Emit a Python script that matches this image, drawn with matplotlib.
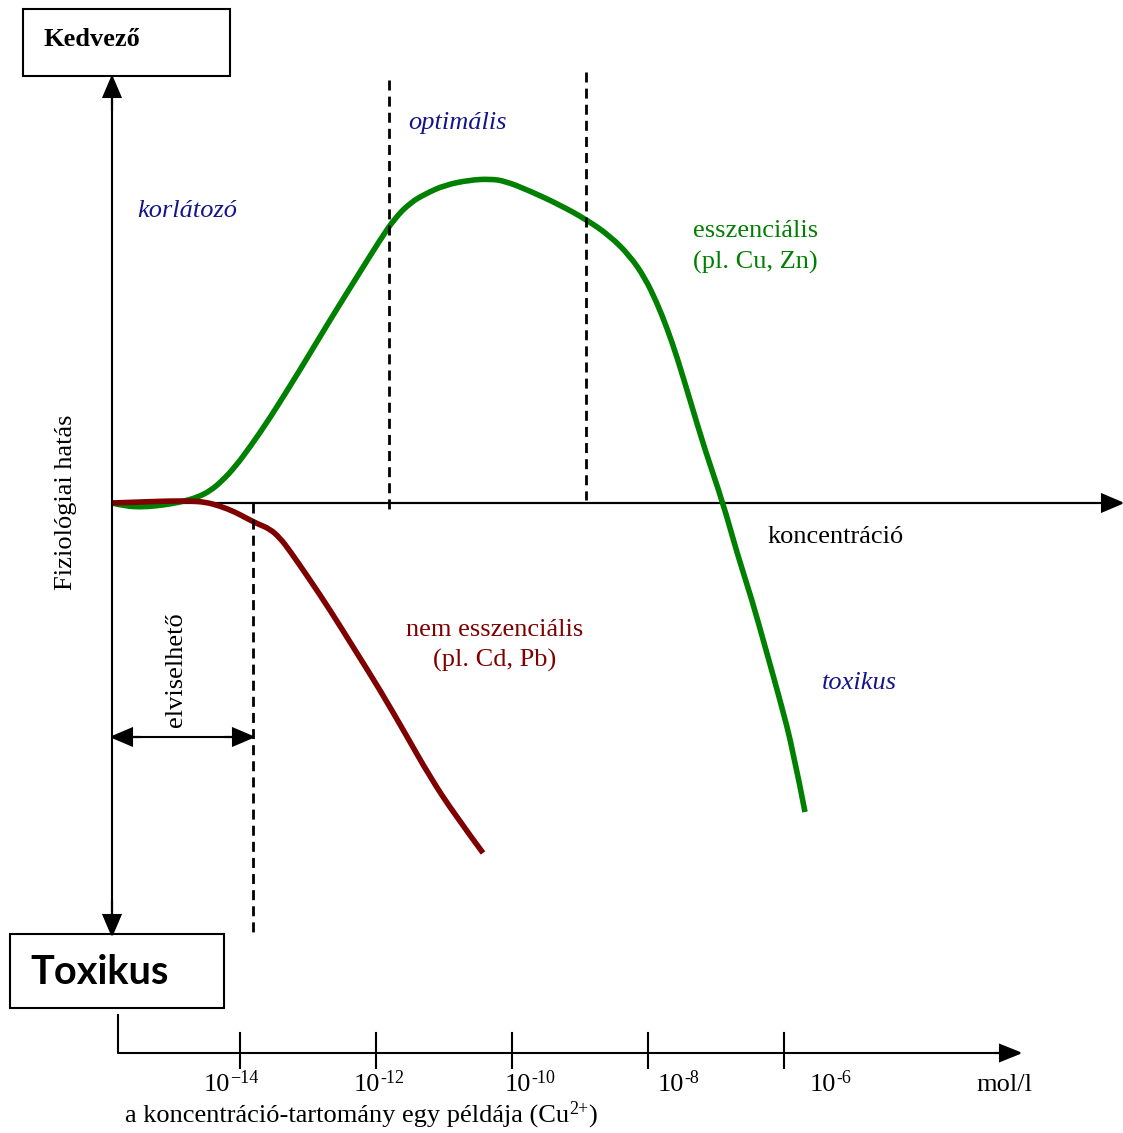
#
# plot.py
#   - Dose-response sketch: essential vs non-essential trace elements.
#

import matplotlib
matplotlib.use("Agg")
import matplotlib.pyplot as plt
from matplotlib.patches import Rectangle, PathPatch
from matplotlib.path import Path

# curve shapes (pixel space, y grows downward)
green_x = [112, 125, 140, 155, 170, 185, 198, 210, 222, 235, 250, 270, 300, 330, 360,
           380, 395, 410, 425, 445, 470, 490, 505, 530, 560, 587, 610, 630, 645, 657,
           667, 677, 690, 705, 723, 737, 752, 766, 780, 793, 805]
green_y = [503, 506, 507, 506, 504, 501, 497, 491, 481, 467, 447, 418, 370, 320, 272,
           240, 218, 203, 194, 185, 180, 179, 181, 191, 205, 220, 236, 256, 278, 303,
           328, 357, 400, 450, 503, 553, 600, 650, 700, 750, 812]

red_x = [112, 140, 170, 190, 205, 220, 235, 248, 258, 270, 280, 290, 310, 330, 355,
         380, 405, 430, 455, 483]
red_y = [503, 502, 501, 501, 502, 506, 512, 519, 524, 529, 538, 551, 580, 610, 650,
         690, 733, 777, 815, 853]

# concentration scale (Cu2+), mol/l exponents
exponents = [-14, -12, -10, -8, -6]
exp_labels = ["\u221214", "-12", "-10", "-8", "-6"]

GREEN = "#008000"
DRED = "#7f0000"
NAVY = "#14148c"
SERIF = "Liberation Serif"


def conc_to_px(e):
    # log-concentration axis: 10^-14 at x=240, 68 px per decade
    return 240 + (e + 14) * 68


def smooth_path(xs, ys):
    # quadratic bezier through midpoints of the read points
    pts = list(zip(xs, ys))
    verts = [pts[0]]
    codes = [Path.MOVETO]
    for i in range(1, len(pts) - 1):
        mid = ((pts[i][0] + pts[i + 1][0]) / 2, (pts[i][1] + pts[i + 1][1]) / 2)
        if i == len(pts) - 2:
            mid = pts[-1]
        verts += [pts[i], mid]
        codes += [Path.CURVE3, Path.CURVE3]
    return Path(verts, codes)


def superscript(ax, base, sup, size=13):
    # small raised text glued to the right edge of another text
    return ax.annotate(sup, xy=(1, 0.78), xycoords=base, xytext=(0, 0),
                       textcoords="offset points", fontsize=size, family=SERIF,
                       ha="left", va="center")


def main():
    fig = plt.figure(figsize=(11.23, 11.33), dpi=100)
    ax = fig.add_axes([0, 0, 1, 1])
    ax.set_xlim(0, 1123)
    ax.set_ylim(1133, 0)
    ax.axis("off")

    arrow_kw = dict(color="black", lw=1.5, length_includes_head=True,
                    head_width=17, head_length=20, overhang=0)

    # main axes
    ax.plot([112, 112], [98, 915], color="black", lw=1.5)
    ax.arrow(112, 110, 0, -33, **arrow_kw)
    ax.arrow(112, 900, 0, 35, **arrow_kw)
    ax.arrow(112, 503, 1010, 0, **arrow_kw)

    # dashed separators
    dash = (0, (3.6, 2.2))
    ax.plot([253, 253], [503, 935], color="black", lw=2, linestyle=dash)
    ax.plot([389, 389], [80, 510], color="black", lw=2, linestyle=dash)
    ax.plot([586, 586], [72, 500], color="black", lw=2, linestyle=dash)

    # tolerable range double arrow
    ax.plot([130, 235], [737, 737], color="black", lw=1.5)
    ax.arrow(140, 737, -28, 0, **arrow_kw)
    ax.arrow(225, 737, 28, 0, **arrow_kw)

    # curves
    ax.add_patch(PathPatch(smooth_path(green_x, green_y), fill=False, ec=GREEN,
                           lw=4.0, capstyle="butt", joinstyle="round"))
    ax.add_patch(PathPatch(smooth_path(red_x, red_y), fill=False, ec=DRED,
                           lw=4.0, capstyle="butt", joinstyle="round"))

    # boxes
    ax.add_patch(Rectangle((23, 9), 207, 67, fill=False, lw=1.5, ec="black"))
    ax.add_patch(Rectangle((10, 934), 214, 74, fill=False, lw=1.5, ec="black"))
    ax.text(44, 39, "Kedvező", fontsize=19, fontweight="bold", family=SERIF,
            ha="left", va="center")
    ax.text(30, 972, "Toxikus", fontsize=28.5, fontweight="bold", family="Lato",
            ha="left", va="center")

    # labels
    ax.text(66, 502, "Fiziológiai hatás", fontsize=19, family=SERIF, rotation=90,
            ha="center", va="center")
    ax.text(176, 670, "elviselhető", fontsize=19, family=SERIF, rotation=90,
            ha="center", va="center")
    ax.text(137, 211, "korlátozó", fontsize=19, family=SERIF, style="italic",
            color=NAVY, ha="left", va="center")
    ax.text(408, 123, "optimális", fontsize=19, family=SERIF, style="italic",
            color=NAVY, ha="left", va="center")
    ax.text(822, 683, "toxikus", fontsize=19, family=SERIF, style="italic",
            color=NAVY, ha="left", va="center")
    ax.text(693, 231, "esszenciális", fontsize=19, family=SERIF, color=GREEN,
            ha="left", va="center")
    ax.text(693, 262, "(pl. Cu, Zn)", fontsize=19, family=SERIF, color=GREEN,
            ha="left", va="center")
    ax.text(495, 630, "nem esszenciális", fontsize=19, family=SERIF, color=DRED,
            ha="center", va="center")
    ax.text(495, 660, "(pl. Cd, Pb)", fontsize=19, family=SERIF, color=DRED,
            ha="center", va="center")
    ax.text(768, 537, "koncentráció", fontsize=19, family=SERIF,
            ha="left", va="center")

    # concentration example axis
    ax.plot([118, 118, 1000], [1015, 1053, 1053], color="black", lw=1.5)
    ax.arrow(995, 1053, 25, 0, color="black", lw=1.5, length_includes_head=True,
             head_width=16, head_length=20, overhang=0)
    label_dx = [-36, -22, -7, 10, 26]
    for e, lab, dx in zip(exponents, exp_labels, label_dx):
        xp = conc_to_px(e)
        ax.plot([xp, xp], [1033, 1068], color="black", lw=1.5)
        ten = ax.text(xp + dx, 1085, "10", fontsize=19, family=SERIF, ha="left",
                      va="center")
        superscript(ax, ten, lab)
    ax.text(976, 1085, "mol/l", fontsize=19, family=SERIF, ha="left", va="center")
    base = ax.text(125, 1116, "a koncentráció-tartomány egy példája (Cu",
                   fontsize=19, family=SERIF, ha="left", va="center")
    sup = superscript(ax, base, "2+")
    ax.annotate(")", xy=(1, 0.5), xycoords=(sup, base), xytext=(0, 0),
                textcoords="offset points", fontsize=19, family=SERIF,
                ha="left", va="center")

    fig.savefig("out.png", dpi=100)


if __name__ == '__main__':
    main()
